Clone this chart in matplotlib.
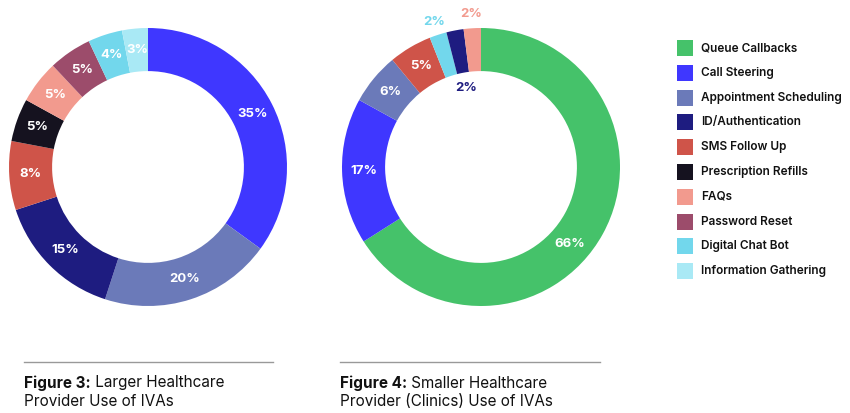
import matplotlib
matplotlib.use("Agg")
import matplotlib.pyplot as plt
from matplotlib.lines import Line2D
import numpy as np

# ---- data ----
categories = ["Queue Callbacks", "Call Steering", "Appointment Scheduling", "ID/Authentication",
              "SMS Follow Up", "Prescription Refills", "FAQs", "Password Reset",
              "Digital Chat Bot", "Information Gathering"]
colors = ["#45C26A", "#3F37FF", "#6B7AB9", "#1E1C80", "#CF5449", "#15121F",
          "#F29A8E", "#9C4C6B", "#72D7EC", "#A9E9F5"]

large_cats = ["Call Steering", "Appointment Scheduling", "ID/Authentication", "SMS Follow Up",
              "Prescription Refills", "FAQs", "Password Reset", "Digital Chat Bot",
              "Information Gathering"]
large_vals = [35, 20, 15, 8, 5, 5, 5, 4, 3]

small_cats = ["Queue Callbacks", "Call Steering", "Appointment Scheduling", "SMS Follow Up",
              "Digital Chat Bot", "ID/Authentication", "FAQs"]
small_vals = [66, 17, 6, 5, 2, 2, 2]

caption_bold = ["Figure 3:", "Figure 4:"]
caption_rest = [" Larger Healthcare", " Smaller Healthcare"]
caption_line2 = ["Provider Use of IVAs", "Provider (Clinics) Use of IVAs"]

cmap = dict(zip(categories, colors))
FONT = "Inter"

W, H = 850, 413
fig = plt.figure(figsize=(W / 100, H / 100), dpi=100)
fig.patch.set_facecolor("white")

R_PX = 139
AX_PX = 296
LIM = AX_PX / (2 * R_PX)
WIDTH = 0.31


def donut(cx, cy, cats, vals, label_style):
    ax = fig.add_axes([(cx - AX_PX / 2) / W, (H - cy - AX_PX / 2) / H, AX_PX / W, AX_PX / H])
    wedges, _ = ax.pie(vals, colors=[cmap[c] for c in cats], startangle=90, counterclock=False,
                       radius=1.0, wedgeprops=dict(width=WIDTH, edgecolor="none"))
    ax.set_xlim(-LIM, LIM)
    ax.set_ylim(-LIM, LIM)
    ax.set_aspect("equal")
    ax.axis("off")
    for w, v, c in zip(wedges, vals, cats):
        ang = np.deg2rad((w.theta1 + w.theta2) / 2)
        kind, dang = label_style.get(c, ("in", None))
        if dang is not None:
            ang = np.deg2rad(dang)
        if kind == "in":
            r, col = 1 - WIDTH / 2, "white"
        elif kind == "out":
            r, col = 1.10, cmap[c]
        else:
            r, col = 0.58, cmap[c]
        ax.text(r * np.cos(ang), r * np.sin(ang), f"{v}%", ha="center", va="center",
                color=col, fontsize=9.5, fontweight="bold", family=FONT, clip_on=False)
    return ax


donut(148, 167, large_cats, large_vals, {})
donut(481, 167, small_cats, small_vals,
      {"Queue Callbacks": ("in", -41), "Digital Chat Bot": ("out", None),
       "ID/Authentication": ("inner", None), "FAQs": ("out", None)})

# ---- legend ----
y0, dy = 48, 24.8
for i, (c, col) in enumerate(zip(categories, colors)):
    y = y0 + i * dy
    fig.patches.append(plt.Rectangle((677 / W, (H - y - 8) / H), 16 / W, 16 / H,
                                     transform=fig.transFigure, facecolor=col, edgecolor="none"))
    fig.text(701 / W, (H - y) / H, c, ha="left", va="center", fontsize=8.5,
             fontweight="semibold", family=FONT, color="#111111")

# ---- captions ----
renderer = fig.canvas.get_renderer()
for x0, x1, b, rest, l2 in zip([24, 340], [273, 600], caption_bold, caption_rest, caption_line2):
    fig.add_artist(Line2D([x0 / W, x1 / W], [(H - 362) / H] * 2, transform=fig.transFigure,
                          color="#999999", lw=1))
    t = fig.text(x0 / W, (H - 383) / H, b, ha="left", va="center", fontsize=11,
                 fontweight="bold", family=FONT, color="#111111")
    bb = t.get_window_extent(renderer)
    fig.text(bb.x1 / W, (H - 383) / H, rest, ha="left", va="center", fontsize=11,
             family=FONT, color="#111111")
    fig.text(x0 / W, (H - 402) / H, l2, ha="left", va="center", fontsize=11,
             family=FONT, color="#111111")

fig.savefig("out.png", dpi=100, facecolor="white")
